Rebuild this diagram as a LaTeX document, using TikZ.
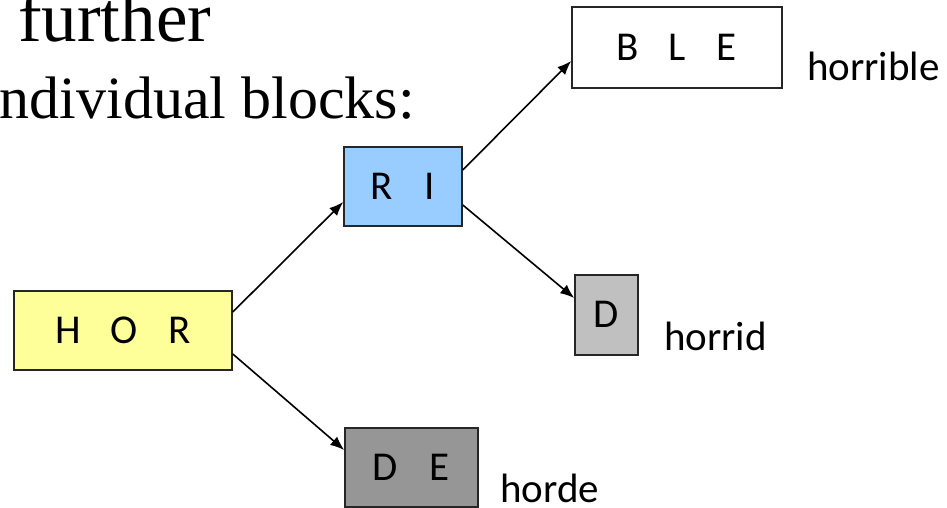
\documentclass[tikz,border=0pt]{standalone}
\usepackage{fontspec}
\setmainfont{Liberation Serif}
\newfontfamily\boxfont{Carlito}
\usetikzlibrary{arrows.meta}
\definecolor{horyellow}{HTML}{FFFF99}
\definecolor{riblue}{HTML}{99CCFF}
\definecolor{dgray}{HTML}{C0C0C0}
\definecolor{degray}{HTML}{969696}
\begin{document}
\begin{tikzpicture}[x=1pt,y=-1pt,
  box/.style={draw=black!85, line width=1.6pt, inner sep=0pt, font=\boxfont\fontsize{41}{41}\selectfont},
  lbl/.style={anchor=base west, inner sep=0pt, font=\boxfont\fontsize{41}{41}\selectfont},
  arr/.style={draw, line width=1.6pt, -{Latex[length=14pt,width=11pt]}}]
\useasboundingbox (0,0) rectangle (947,508);
\clip (0,0) rectangle (947,508);
\node[anchor=base west, inner sep=0pt, font=\fontsize{71}{71}\selectfont] (t1) at (18,42) {further};
\node[anchor=base west, inner sep=0pt, font=\fontsize{60}{60}\selectfont] (t2) at (-17,119) {individual blocks:};
\node[box, fill=horyellow, minimum width=218pt, minimum height=79pt] (hor) at (123,330.5) {H\hspace{29pt}O\hspace{31pt}R};
\node[box, fill=riblue, minimum width=118pt, minimum height=79pt] (ri) at (403,186.5) {R\hspace{32pt}I};
\node[box, fill=white, minimum width=210pt, minimum height=81pt] (ble) at (677,47.5) {B\hspace{29.7pt}L\hspace{30.8pt}E};
\node[box, fill=dgray, minimum width=63pt, minimum height=80pt] (d) at (606.5,315) {\raisebox{2pt}{D}\hspace{4pt}};
\node[box, fill=degray, minimum width=133pt, minimum height=79pt] (de) at (411.5,467.5) {\raisebox{-6pt}{D\hspace{31.8pt}E}};
\node[lbl] (l1) at (807,81) {horrible};
\node[lbl] (l2) at (664,350) {horrid};
\node[lbl] (l3) at (500,502) {horde};
\draw[arr] ([yshift=18.5pt]hor.east) -- ([yshift=-15.5pt]ri.west);
\draw[arr] ([yshift=-23.5pt]hor.east) -- ([yshift=17.5pt]de.west);
\draw[arr] ([yshift=16.5pt]ri.east) -- ([yshift=-13.5pt]ble.west);
\draw[arr] ([yshift=-18.5pt]ri.east) -- ([yshift=17pt]d.west);
\end{tikzpicture}
\end{document}
